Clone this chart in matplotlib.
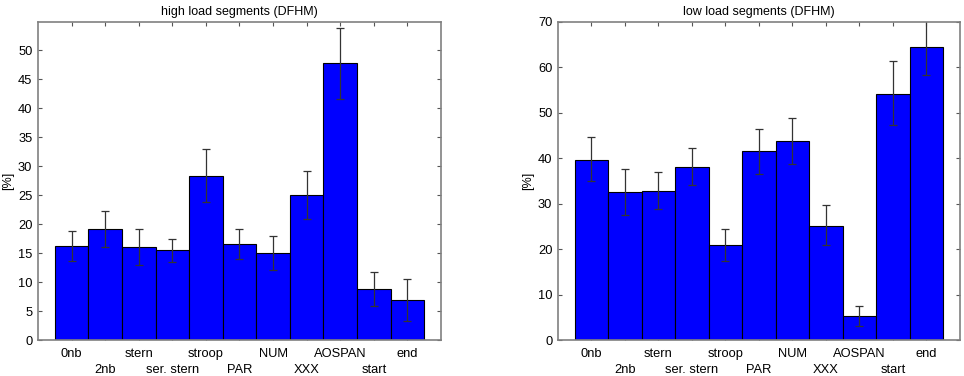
import numpy as np
import matplotlib
matplotlib.use('Agg')
import matplotlib.pyplot as plt

plt.rcParams['font.family'] = ['Liberation Sans', 'DejaVu Sans']

#segment names, shown in two staggered rows under the bars
segments = ['0nb', '2nb', 'stern', 'ser. stern', 'stroop', 'PAR', 'NUM', 'XXX', 'AOSPAN', 'start', 'end']

#high load segments: mean and error bar ends
high_mean = [16.2, 19.1, 16.0, 15.5, 28.3, 16.5, 15.0, 25.0, 47.8, 8.8, 6.9]
high_low = [13.7, 16.0, 13.0, 13.5, 23.8, 14.0, 12.0, 20.9, 41.6, 5.9, 3.3]
high_high = [18.8, 22.3, 19.1, 17.5, 32.9, 19.1, 17.9, 29.2, 53.9, 11.8, 10.6]

#low load segments
low_mean = [39.7, 32.5, 32.9, 38.1, 20.8, 41.5, 43.8, 25.2, 5.3, 54.2, 64.4]
low_low = [35.0, 27.5, 28.8, 34.2, 17.3, 36.5, 38.8, 20.8, 3.0, 47.3, 58.3]
low_high = [44.6, 37.6, 37.0, 42.2, 24.5, 46.4, 48.9, 29.7, 7.5, 61.3, 70.6]


def draw_panel(ax, mean, lo, hi, title, ymax, yticks):
    x = np.arange(1, len(mean) + 1)
    mean = np.array(mean)
    err = [mean - np.array(lo), np.array(hi) - mean]
    ax.set_axisbelow(True)
    ax.bar(x, mean, width=1.0, color='#0000ff', edgecolor='black', linewidth=0.8, zorder=1)
    ax.errorbar(x, mean, yerr=err, fmt='none', ecolor='#333333', elinewidth=0.9,
                capsize=3, capthick=0.9, zorder=3)
    ax.set_xlim(0, 12)
    ax.set_ylim(0, ymax)
    ax.set_yticks(yticks)
    #first row of labels on major ticks, second row on minor ticks
    ax.set_xticks(x[::2])
    ax.set_xticklabels(segments[::2])
    ax.set_xticks(x[1::2], minor=True)
    ax.set_xticklabels(segments[1::2], minor=True)
    ax.set_title(title, fontsize=9, pad=5)
    ax.set_ylabel('[%]', fontsize=9, labelpad=3)
    ax.tick_params(which='both', direction='in', top=True, right=True, length=3, width=0.8,
                   color='#555555', labelsize=9.3, pad=4)
    ax.tick_params(axis='x', which='major', length=3, pad=6)
    ax.tick_params(axis='x', which='minor', length=3, pad=17)
    for sp in ax.spines.values():
        sp.set_color('#808080')
        sp.set_linewidth(1.2)
        sp.set_zorder(4)


fig = plt.figure(figsize=(9.64, 3.76), dpi=100)
ax1 = fig.add_axes([0.0394, 0.0957, 0.418, 0.846])
ax2 = fig.add_axes([0.5788, 0.0957, 0.417, 0.846])

draw_panel(ax1, high_mean, high_low, high_high, 'high load segments (DFHM)', 54.9, np.arange(0, 51, 5))
draw_panel(ax2, low_mean, low_low, low_high, 'low load segments (DFHM)', 70, np.arange(0, 71, 10))

fig.savefig('out.png', dpi=100)
